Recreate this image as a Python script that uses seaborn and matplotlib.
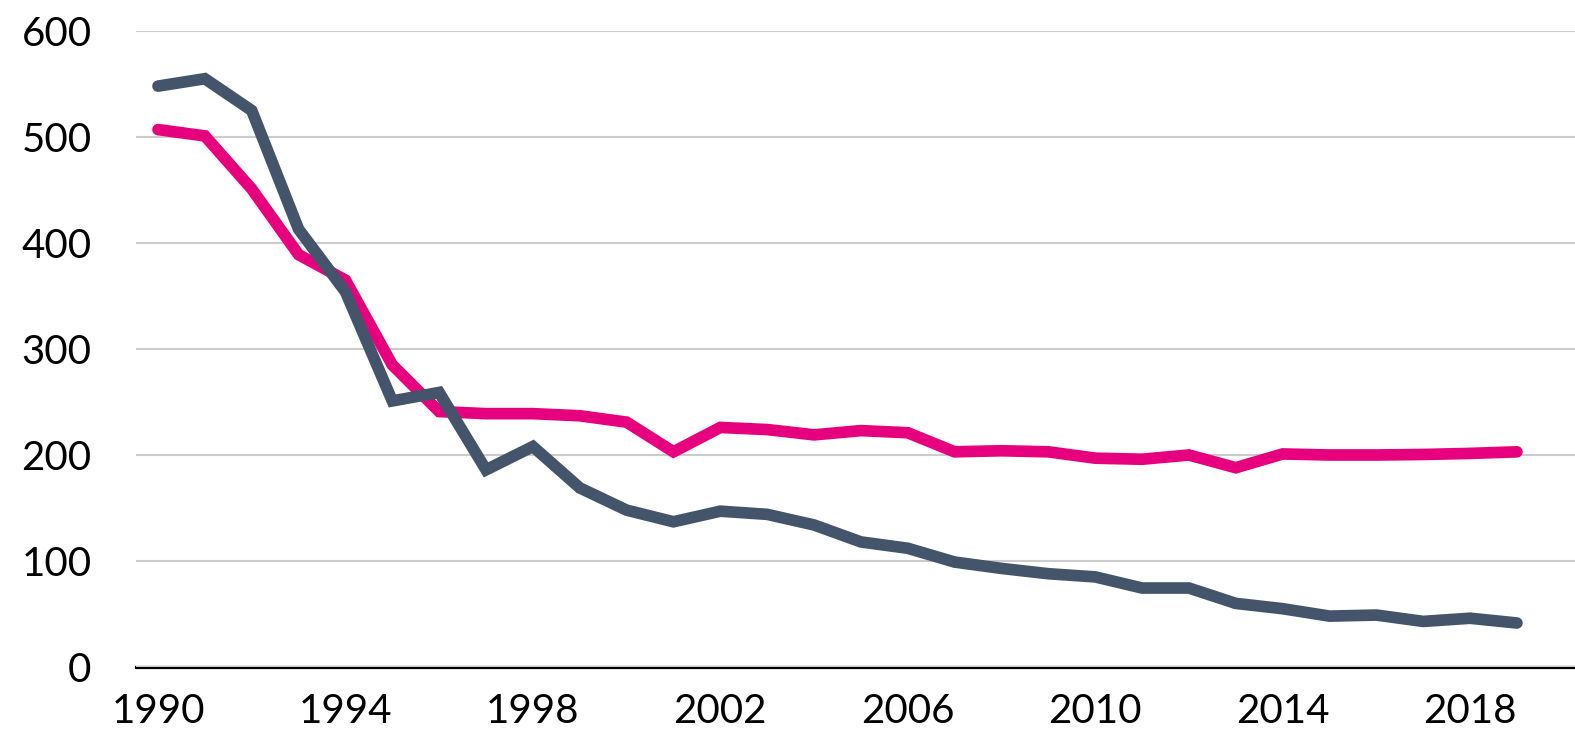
import matplotlib
matplotlib.use("Agg")
import matplotlib.pyplot as plt
import seaborn as sns
import pandas as pd

years = list(range(1990, 2020))

pink_series = [507, 501, 451, 389, 365, 285, 241, 239, 239, 237,
               231, 203, 226, 224, 219, 223, 221, 203, 204, 203,
               197, 196, 200, 188, 201, 200, 200, 200.5, 201.5, 203]

slate_series = [548, 555, 525, 413, 354, 251, 259, 186, 208, 169,
                148, 137, 147, 144, 134, 118, 112, 99, 93, 88,
                85, 74.5, 74.5, 60, 55, 48, 49, 43, 46, 41.5]

y_ticks = [0, 100, 200, 300, 400, 500, 600]
x_ticks = list(range(1990, 2019, 4))

df = pd.DataFrame({
    "year": years * 2,
    "value": pink_series + slate_series,
    "series": ["pink"] * len(years) + ["slate"] * len(years),
})

sns.set_theme(style="white")
plt.rcParams["font.family"] = ["Lato", "DejaVu Sans"]

fig = plt.figure(figsize=(15.75, 7.34), dpi=100)
ax = fig.add_axes([136 / 1575, 67 / 734, 1 - 136 / 1575, 636 / 734])

sns.lineplot(data=df, x="year", y="value", hue="series",
             palette={"pink": "#E6007E", "slate": "#44546A"},
             linewidth=8.4, ax=ax, legend=False, sort=False)
for line in ax.lines:
    line.set_solid_capstyle("round")
    line.set_solid_joinstyle("miter")

ax.set_xlim(1990 - 22 / 46.86, 1990 + (1575 - 158) / 46.86)
ax.set_ylim(0, 600)
ax.set_yticks(y_ticks)
ax.set_xticks(x_ticks)
ax.set_xticklabels([str(x) for x in x_ticks])
ax.set_xlabel("")
ax.set_ylabel("")

ax.yaxis.grid(True, color="#CCCCCC", linewidth=1.5)
ax.xaxis.grid(False)
ax.set_axisbelow(True)
for side in ["top", "right", "left"]:
    ax.spines[side].set_visible(False)
ax.spines["bottom"].set_color("black")
ax.spines["bottom"].set_linewidth(2.3)
ax.spines["bottom"].set_zorder(0.5)

ax.tick_params(axis="both", length=0, labelsize=29, colors="black")
ax.tick_params(axis="y", pad=32)
ax.tick_params(axis="x", pad=19)

fig.savefig("out.png", dpi=100)
